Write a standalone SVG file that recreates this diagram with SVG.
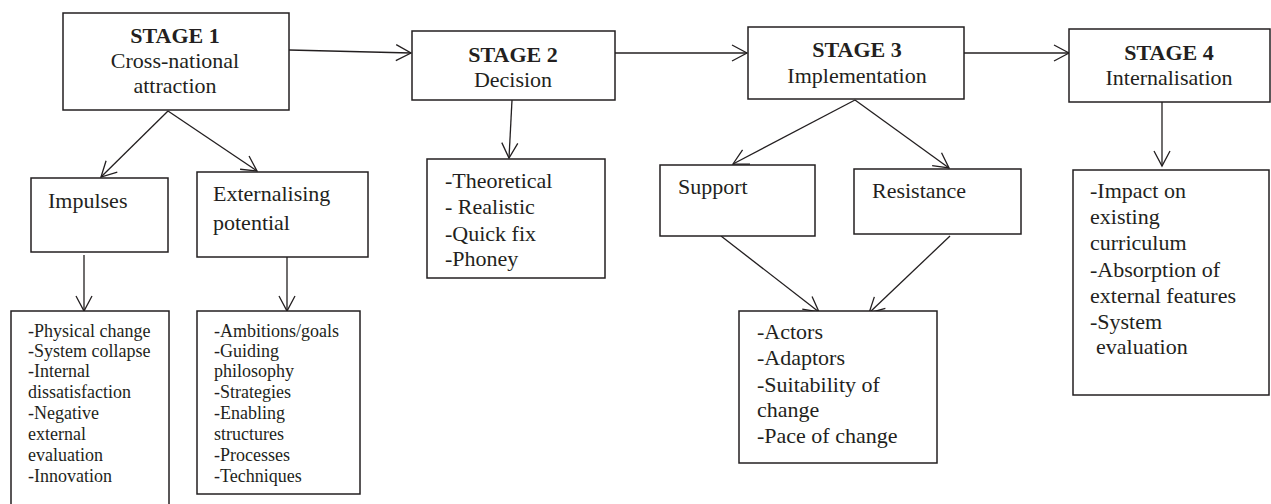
<svg xmlns="http://www.w3.org/2000/svg" width="1271" height="504" viewBox="0 0 1271 504">
<style>
.box{fill:#fff;stroke:#231f20;stroke-width:1.5}
.t{font-family:"Liberation Serif","Times New Roman",serif;font-size:22px;fill:#231f20}
.s{font-size:18px}
.b{font-weight:bold}
.m{text-anchor:middle}
.c{stroke:#231f20;stroke-width:1.3;fill:none;marker-end:url(#ah)}
</style>
<defs>
<marker id="ah" markerUnits="userSpaceOnUse" markerWidth="20" markerHeight="20" viewBox="-17 -10 20 20" refX="0" refY="0" orient="auto">
<path d="M-15,-8 L0,0 L-15,8" fill="none" stroke="#231f20" stroke-width="1.3"/>
</marker>
</defs>
<rect width="1271" height="504" fill="#fff"/>
<g id="connectors">
<line class="c" x1="289" y1="50" x2="411" y2="53"/>
<line class="c" x1="615" y1="53" x2="747" y2="53"/>
<line class="c" x1="964" y1="53" x2="1069" y2="53"/>
<line class="c" x1="168" y1="111" x2="101" y2="177"/>
<line class="c" x1="168" y1="111" x2="257" y2="171"/>
<line class="c" x1="84" y1="255" x2="84" y2="311"/>
<line class="c" x1="287" y1="255" x2="287" y2="311"/>
<line class="c" x1="512" y1="100" x2="509" y2="158"/>
<line class="c" x1="855" y1="100" x2="733" y2="164"/>
<line class="c" x1="855" y1="100" x2="949" y2="168"/>
<line class="c" x1="721" y1="236" x2="819" y2="312"/>
<line class="c" x1="950" y1="236" x2="869" y2="313"/>
<line class="c" x1="1162" y1="102" x2="1162" y2="166"/>
</g>
<g id="stage1">
<rect class="box" x="63" y="13" width="226" height="97"/>
<text class="t b m" x="175" y="43">STAGE 1</text>
<text class="t m" x="175" y="68">Cross-national</text>
<text class="t m" x="175" y="93">attraction</text>
</g>
<g id="stage2">
<rect class="box" x="412" y="31" width="203" height="69"/>
<text class="t b m" x="513" y="62">STAGE 2</text>
<text class="t m" x="513" y="87">Decision</text>
</g>
<g id="stage3">
<rect class="box" x="748" y="27" width="216" height="72"/>
<text class="t b m" x="857" y="57">STAGE 3</text>
<text class="t m" x="857" y="83">Implementation</text>
</g>
<g id="stage4">
<rect class="box" x="1069" y="29" width="201" height="73"/>
<text class="t b m" x="1169" y="60">STAGE 4</text>
<text class="t m" x="1169" y="85">Internalisation</text>
</g>
<g id="impulses">
<rect class="box" x="31" y="178" width="137" height="74"/>
<text class="t" x="48" y="208">Impulses</text>
</g>
<g id="externalising">
<rect class="box" x="197" y="172" width="171" height="85"/>
<text class="t" x="213" y="201">Externalising</text>
<text class="t" x="213" y="230">potential</text>
</g>
<g id="impulses-list">
<rect class="box" x="11" y="311" width="158" height="200"/>
<text class="t s" x="28" y="337">-Physical change</text>
<text class="t s" x="28" y="357">-System collapse</text>
<text class="t s" x="28" y="377">-Internal</text>
<text class="t s" x="28" y="398">dissatisfaction</text>
<text class="t s" x="28" y="419">-Negative</text>
<text class="t s" x="28" y="440">external</text>
<text class="t s" x="28" y="461">evaluation</text>
<text class="t s" x="28" y="482">-Innovation</text>
</g>
<g id="externalising-list">
<rect class="box" x="197" y="311" width="163" height="183"/>
<text class="t s" x="214" y="337">-Ambitions/goals</text>
<text class="t s" x="214" y="357">-Guiding</text>
<text class="t s" x="214" y="377">philosophy</text>
<text class="t s" x="214" y="398">-Strategies</text>
<text class="t s" x="214" y="419">-Enabling</text>
<text class="t s" x="214" y="440">structures</text>
<text class="t s" x="214" y="461">-Processes</text>
<text class="t s" x="214" y="482">-Techniques</text>
</g>
<g id="decision-list">
<rect class="box" x="427" y="159" width="178" height="119"/>
<text class="t" x="445" y="188">-Theoretical</text>
<text class="t" x="445" y="214">- Realistic</text>
<text class="t" x="445" y="241">-Quick fix</text>
<text class="t" x="445" y="266">-Phoney</text>
</g>
<g id="support">
<rect class="box" x="660" y="165" width="155" height="71"/>
<text class="t" x="678" y="194">Support</text>
</g>
<g id="resistance">
<rect class="box" x="854" y="169" width="167" height="65"/>
<text class="t" x="872" y="198">Resistance</text>
</g>
<g id="implementation-list">
<rect class="box" x="739" y="311" width="198" height="152"/>
<text class="t" x="757" y="339">-Actors</text>
<text class="t" x="757" y="365">-Adaptors</text>
<text class="t" x="757" y="392">-Suitability of</text>
<text class="t" x="757" y="417">change</text>
<text class="t" x="757" y="443">-Pace of change</text>
</g>
<g id="internalisation-list">
<rect class="box" x="1073" y="170" width="196" height="225"/>
<text class="t" x="1090" y="198">-Impact on</text>
<text class="t" x="1090" y="224">existing</text>
<text class="t" x="1090" y="250">curriculum</text>
<text class="t" x="1090" y="277">-Absorption of</text>
<text class="t" x="1090" y="303">external features</text>
<text class="t" x="1090" y="329">-System</text>
<text class="t" x="1096" y="354">evaluation</text>
</g>
</svg>
